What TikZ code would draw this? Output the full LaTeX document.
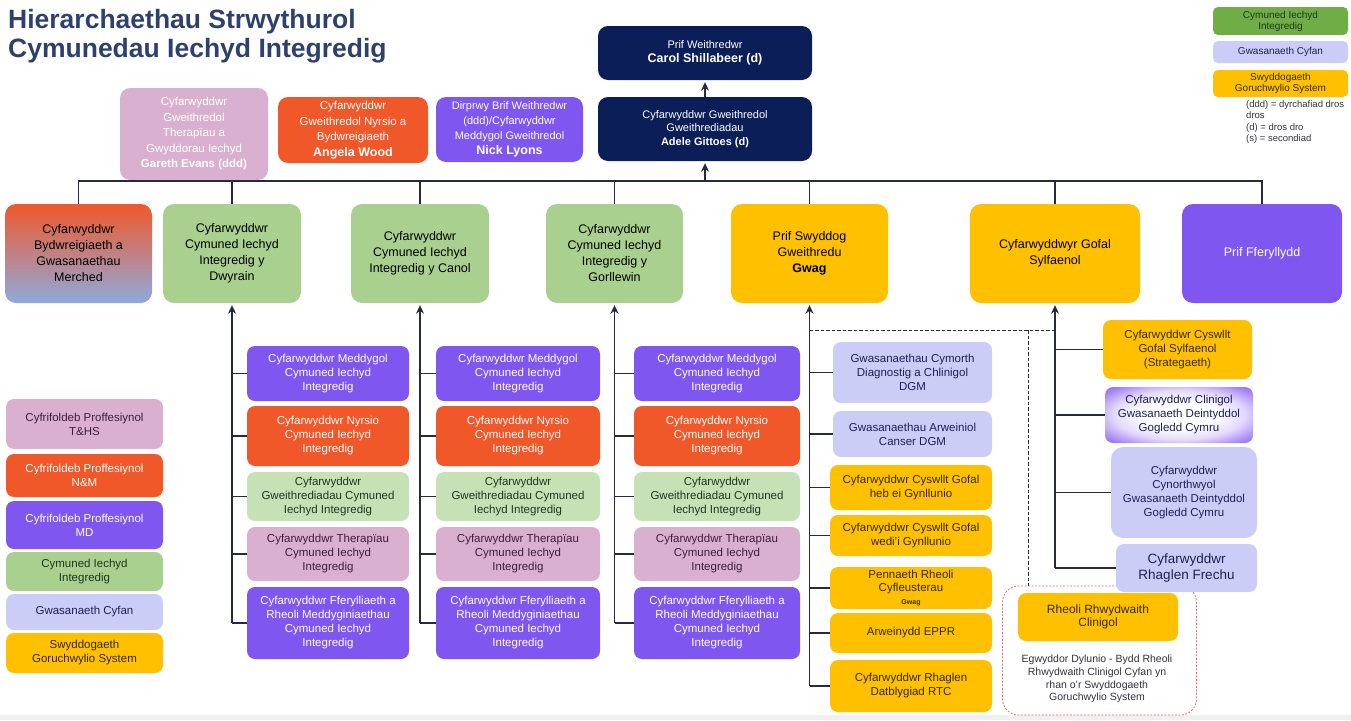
\documentclass[tikz,border=0pt]{standalone}
\usepackage{fontspec}
\setmainfont{Liberation Sans}
\usetikzlibrary{arrows.meta}

\definecolor{navy}{RGB}{12,30,88}
\definecolor{mauve}{RGB}{217,176,208}
\definecolor{orng}{RGB}{240,88,42}
\definecolor{purp}{RGB}{128,86,240}
\definecolor{grn}{RGB}{169,208,142}
\definecolor{lgrn}{RGB}{199,225,183}
\definecolor{dgrn}{RGB}{112,173,71}
\definecolor{gold}{RGB}{255,192,0}
\definecolor{lav}{RGB}{204,205,247}
\definecolor{lblue}{RGB}{142,170,219}
\definecolor{ttl}{RGB}{46,64,110}
\definecolor{lne}{RGB}{38,42,58}
\definecolor{netred}{RGB}{226,110,120}
\definecolor{mauvetxt}{RGB}{60,30,62}
\definecolor{grntxt}{RGB}{28,56,28}
\definecolor{goldtxt}{RGB}{52,40,0}
\definecolor{lavtxt}{RGB}{30,32,80}
\definecolor{notetxt}{RGB}{50,50,60}

\pgfdeclareradialshading{dentshade}{\pgfpoint{0bp}{0bp}}{color(0bp)=(white); color(12bp)=(white); color(22bp)=(purp!22!white); color(32bp)=(purp!75!white); color(50bp)=(purp!90!black)}

\begin{document}
\begin{tikzpicture}[>={Stealth[length=8.5pt,width=8pt]}, x=1pt, y=-1pt,
  wh/.style 2 args={minimum width=#1, minimum height=#2},
  bx/.style={rounded corners=8pt, inner sep=1pt, align=center},
  fmain/.style={font=\fontsize{12.5}{16}\selectfont, rounded corners=11pt},
  fsub/.style={font=\fontsize{11.5}{14}\selectfont},
  ftop/.style={font=\fontsize{11.5}{15.5}\selectfont, rounded corners=10pt},
  fkey/.style={font=\fontsize{11.5}{14}\selectfont, rounded corners=8pt},
  fcorner/.style={font=\fontsize{10}{11}\selectfont, rounded corners=5pt},
  navybox/.style={bx, fill=navy, text=white},
  mauvebox/.style={bx, fill=mauve, text=mauvetxt},
  orngbox/.style={bx, fill=orng, text=white},
  purpbox/.style={bx, fill=purp, text=white},
  greenbox/.style={bx, fill=grn, text=black},
  lgrnbox/.style={bx, fill=lgrn, text=grntxt},
  goldbox/.style={bx, fill=gold, text=goldtxt},
  lavbox/.style={bx, fill=lav, text=lavtxt},
  conn/.style={draw=lne, line width=1.2pt},
  upconn/.style={conn, ->, shorten >=2pt},
  dashconn/.style={draw=lne, line width=0.8pt, dash pattern=on 3.5pt off 2pt},
  netframe/.style={draw=netred, line width=0.8pt, dash pattern=on 2pt off 1.5pt, rounded corners=16pt},
  titlenode/.style={inner sep=0pt, align=left, text=ttl, font=\fontsize{26.5}{29}\selectfont\bfseries}]
\useasboundingbox (0,0) rectangle (1351,720);
\fill[gray!12] (0,715) rectangle (1351,720);

\node[titlenode, anchor=north west] (title) at (8,9) {Hierarchaethau Strwythurol\\Cymunedau Iechyd Integredig};

\node[bx, fcorner, fill=dgrn, text=grntxt, wh={135}{28}] (k1) at (1280.5,21) {Cymuned Iechyd\\Integredig};
\node[lavbox, fcorner, wh={135}{22}] (k2) at (1280.5,52) {Gwasanaeth Cyfan};
\node[goldbox, fcorner, wh={135}{27}] (k3) at (1280.5,83.5) {Swyddogaeth\\Goruchwylio System};
\node[anchor=north west, inner sep=0pt, align=left, text=notetxt, font=\fontsize{9.5}{11.5}\selectfont] (notes) at (1246,100) {(ddd) = dyrchafiad dros\\dros\\(d) = dros dro\\(s) = secondiad};

\node[navybox, wh={214}{54}, font=\fontsize{11}{14}\selectfont, rounded corners=10pt] (ceo) at (705,53) {Prif Weithredwr\\{\fontsize{12.5}{15}\selectfont\bfseries Carol Shillabeer (d)}};
\node[navybox, wh={214}{64}, font=\fontsize{11}{13.5}\selectfont, rounded corners=10pt] (coo) at (705,129) {Cyfarwyddwr Gweithredol\\Gweithrediadau\\\textbf{Adele Gittoes (d)}};
\node[mauvebox, ftop, text=white, wh={148}{92}] (ther) at (194,134) {Cyfarwyddwr\\Gweithredol\\Therapïau a\\Gwyddorau Iechyd\\\textbf{Gareth Evans (ddd)}};
\node[orngbox, ftop, wh={150}{66}] (nurse) at (353,130) {Cyfarwyddwr\\Gweithredol Nyrsio a\\Bydwreigiaeth\\{\fontsize{12.5}{15}\selectfont\bfseries Angela Wood}};
\node[purpbox, ftop, font=\fontsize{11}{15}\selectfont, wh={147}{65}] (med) at (509.5,129.5) {Dirprwy Brif Weithredwr\\(ddd)/Cyfarwyddwr\\Meddygol Gweithredol\\{\fontsize{12.5}{15}\selectfont\bfseries Nick Lyons}};

\node[bx, fmain, wh={147}{99}, top color=orng, middle color=white, bottom color=lblue] (mid) at (78.5,253.5) {Cyfarwyddwr\\Bydwreigiaeth a\\Gwasanaethau\\Merched};
\node[greenbox, fmain, wh={138}{99}] (east) at (232,253.5) {Cyfarwyddwr\\Cymuned Iechyd\\Integredig y\\Dwyrain};
\node[greenbox, fmain, wh={138}{99}] (cent) at (420,253.5) {Cyfarwyddwr\\Cymuned Iechyd\\Integredig y Canol};
\node[greenbox, fmain, wh={137}{99}] (west) at (614.5,253.5) {Cyfarwyddwr\\Cymuned Iechyd\\Integredig y\\Gorllewin};
\node[goldbox, fmain, text=black, wh={157}{99}] (coo2) at (809.5,253.5) {Prif Swyddog\\Gweithredu\\\textbf{Gwag}};
\node[goldbox, fmain, text=black, wh={170}{99}] (pc) at (1055,253.5) {Cyfarwyddwyr Gofal\\Sylfaenol};
\node[purpbox, fmain, wh={160}{99}] (pharm) at (1262,253.5) {Prif Fferyllydd};

\coordinate (bus) at (705,181);
\draw[conn] (mid.north) -- (mid.north |- bus) -- (pharm.north |- bus) -- (pharm.north);
\draw[conn] (east.north) edge (east.north |- bus);
\draw[conn] (cent.north) edge (cent.north |- bus);
\draw[conn] (west.north) edge (west.north |- bus);
\draw[conn] (coo2.north) edge (coo2.north |- bus);
\draw[conn] (pc.north) edge (pc.north |- bus);
\draw[upconn] (bus) -- (coo.south);
\draw[upconn] (coo.north) -- (ceo.south);

\node[purpbox, fsub, wh={162}{55}] (e1) at (328,373.5) {Cyfarwyddwr Meddygol\\Cymuned Iechyd\\Integredig};
\node[orngbox, fsub, wh={162}{60}] (e2) at (328,436) {Cyfarwyddwr Nyrsio\\Cymuned Iechyd\\Integredig};
\node[lgrnbox, fsub, wh={162}{49}] (e3) at (328,496.5) {Cyfarwyddwr\\Gweithrediadau Cymuned\\Iechyd Integredig};
\node[mauvebox, fsub, wh={162}{54}] (e4) at (328,554) {Cyfarwyddwr Therapïau\\Cymuned Iechyd\\Integredig};
\node[purpbox, fsub, wh={162}{72}] (e5) at (328,623) {Cyfarwyddwr Fferylliaeth a\\Rheoli Meddyginiaethau\\Cymuned Iechyd\\Integredig};

\node[purpbox, fsub, wh={164}{55}] (c1) at (518,373.5) {Cyfarwyddwr Meddygol\\Cymuned Iechyd\\Integredig};
\node[orngbox, fsub, wh={164}{60}] (c2) at (518,436) {Cyfarwyddwr Nyrsio\\Cymuned Iechyd\\Integredig};
\node[lgrnbox, fsub, wh={164}{49}] (c3) at (518,496.5) {Cyfarwyddwr\\Gweithrediadau Cymuned\\Iechyd Integredig};
\node[mauvebox, fsub, wh={164}{54}] (c4) at (518,554) {Cyfarwyddwr Therapïau\\Cymuned Iechyd\\Integredig};
\node[purpbox, fsub, wh={164}{72}] (c5) at (518,623) {Cyfarwyddwr Fferylliaeth a\\Rheoli Meddyginiaethau\\Cymuned Iechyd\\Integredig};

\node[purpbox, fsub, wh={166}{55}] (w1) at (717,373.5) {Cyfarwyddwr Meddygol\\Cymuned Iechyd\\Integredig};
\node[orngbox, fsub, wh={166}{60}] (w2) at (717,436) {Cyfarwyddwr Nyrsio\\Cymuned Iechyd\\Integredig};
\node[lgrnbox, fsub, wh={166}{49}] (w3) at (717,496.5) {Cyfarwyddwr\\Gweithrediadau Cymuned\\Iechyd Integredig};
\node[mauvebox, fsub, wh={166}{54}] (w4) at (717,554) {Cyfarwyddwr Therapïau\\Cymuned Iechyd\\Integredig};
\node[purpbox, fsub, wh={166}{72}] (w5) at (717,623) {Cyfarwyddwr Fferylliaeth a\\Rheoli Meddyginiaethau\\Cymuned Iechyd\\Integredig};

\draw[upconn] (e5.west -| east.south) -- (east.south);
\draw[conn] (e1.west) edge (e1.west -| east.south);
\draw[conn] (e2.west) edge (e2.west -| east.south);
\draw[conn] (e3.west) edge (e3.west -| east.south);
\draw[conn] (e4.west) edge (e4.west -| east.south);
\draw[conn] (e5.west) edge (e5.west -| east.south);
\draw[upconn] (c5.west -| cent.south) -- (cent.south);
\draw[conn] (c1.west) edge (c1.west -| cent.south);
\draw[conn] (c2.west) edge (c2.west -| cent.south);
\draw[conn] (c3.west) edge (c3.west -| cent.south);
\draw[conn] (c4.west) edge (c4.west -| cent.south);
\draw[conn] (c5.west) edge (c5.west -| cent.south);
\draw[upconn] (w5.west -| west.south) -- (west.south);
\draw[conn] (w1.west) edge (w1.west -| west.south);
\draw[conn] (w2.west) edge (w2.west -| west.south);
\draw[conn] (w3.west) edge (w3.west -| west.south);
\draw[conn] (w4.west) edge (w4.west -| west.south);
\draw[conn] (w5.west) edge (w5.west -| west.south);

\node[lavbox, fsub, wh={159}{61}] (g1) at (912.5,372.5) {Gwasanaethau Cymorth\\Diagnostig a Chlinigol\\DGM};
\node[lavbox, fsub, wh={159}{46}] (g2) at (912.5,434) {Gwasanaethau Arweiniol\\Canser DGM};
\node[goldbox, fsub, wh={162}{45}] (g3) at (911,487.5) {Cyfarwyddwr Cyswllt Gofal\\heb ei Gynllunio};
\node[goldbox, fsub, wh={162}{41}] (g4) at (911,535.5) {Cyfarwyddwr Cyswllt Gofal\\wedi'i Gynllunio};
\node[goldbox, font=\fontsize{11.5}{13}\selectfont, wh={162}{42}] (g5) at (911,588) {Pennaeth Rheoli\\Cyfleusterau\\{\fontsize{7}{8}\selectfont\bfseries Gwag}};
\node[goldbox, fsub, wh={162}{40}] (g6) at (911,633) {Arweinydd EPPR};
\node[goldbox, fsub, wh={162}{52}] (g7) at (911,686) {Cyfarwyddwr Rhaglen\\Datblygiad RTC};

\draw[upconn] (g7.west -| coo2.south) -- (coo2.south);
\draw[conn] (g1.west) edge (g1.west -| coo2.south);
\draw[conn] (g2.west) edge (g2.west -| coo2.south);
\draw[conn] (g3.west) edge (g3.west -| coo2.south);
\draw[conn] (g4.west) edge (g4.west -| coo2.south);
\draw[conn] (g5.west) edge (g5.west -| coo2.south);
\draw[conn] (g6.west) edge (g6.west -| coo2.south);
\draw[conn] (g7.west) edge (g7.west -| coo2.south);

\node[netframe, wh={194}{129}] (netfr) at (1099.5,650.5) {};
\node[goldbox, fsub, wh={149}{59}] (p1) at (1177.5,349.5) {Cyfarwyddwr Cyswllt\\Gofal Sylfaenol\\(Strategaeth)};
\node[bx, fsub, shade, shading=dentshade, text=lavtxt, wh={148}{56}] (p2) at (1179,415) {Cyfarwyddwr Clinigol\\Gwasanaeth Deintyddol\\Gogledd Cymru};
\node[lavbox, fsub, rounded corners=12pt, wh={146}{91}] (p3) at (1184,492.5) {Cyfarwyddwr\\Cynorthwyol\\Gwasanaeth Deintyddol\\Gogledd Cymru};
\node[lavbox, font=\fontsize{13.5}{16}\selectfont, wh={141}{48}] (p4) at (1186.5,568) {Cyfarwyddwr\\Rhaglen Frechu};
\node[goldbox, font=\fontsize{12}{13.5}\selectfont, wh={160}{48}] (net) at (1098,617) {Rheoli Rhwydwaith\\Clinigol};
\node[inner sep=0pt, align=center, text=notetxt, font=\fontsize{10.5}{12.8}\selectfont] (netnote) at (1097,679) {Egwyddor Dylunio - Bydd Rheoli\\Rhwydwaith Clinigol Cyfan yn\\rhan o'r Swyddogaeth\\Goruchwylio System};

\draw[upconn] (p4.west -| pc.south) -- (pc.south);
\draw[conn] (p1.west) edge (p1.west -| pc.south);
\draw[conn] (p2.west) edge (p2.west -| pc.south);
\draw[conn] (p3.west) edge (p3.west -| pc.south);
\draw[conn] (p4.west) edge (p4.west -| pc.south);

\coordinate (dj) at (1028,330);
\draw[dashconn] (coo2.south |- dj) -- (pc.south |- dj);
\draw[dashconn] (dj) -- (dj |- netfr.north);

\node[mauvebox, fkey, wh={157}{50}] (l1) at (84.5,424) {Cyfrifoldeb Proffesiynol\\T\&HS};
\node[orngbox, fkey, wh={157}{43}] (l2) at (84.5,475.5) {Cyfrifoldeb Proffesiynol\\N\&M};
\node[purpbox, fkey, wh={157}{48}] (l3) at (84.5,525) {Cyfrifoldeb Proffesiynol\\MD};
\node[greenbox, fkey, text=grntxt, wh={157}{39}] (l4) at (84.5,571.5) {Cymuned Iechyd\\Integredig};
\node[lavbox, fkey, wh={157}{36}] (l5) at (84.5,612) {Gwasanaeth Cyfan};
\node[goldbox, fkey, wh={157}{40}] (l6) at (84.5,653) {Swyddogaeth\\Goruchwylio System};
\end{tikzpicture}
\end{document}
